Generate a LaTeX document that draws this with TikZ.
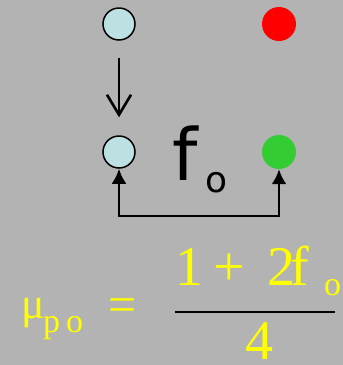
\documentclass[tikz,border=0pt]{standalone}
\usepackage{fontspec}
\setmainfont{Liberation Serif}
\newfontfamily\labelfont{DejaVu Sans}
\usetikzlibrary{arrows.meta}
\definecolor{bg}{HTML}{B3B3B3}
\definecolor{lblue}{HTML}{BDE0E3}
\definecolor{ggreen}{HTML}{33CC33}
\definecolor{yel}{HTML}{FFFF00}
\tikzset{
  site/.style={circle,draw=black,line width=1.5pt,fill=lblue,minimum size=32pt,inner sep=0pt},
  dot/.style={circle,minimum size=34pt,inner sep=0pt},
  eq/.style={text=yel,inner sep=0pt,anchor=base west},
  big/.style={eq,font=\fontsize{56}{56}\selectfont},
  small/.style={eq,font=\fontsize{34}{34}\selectfont},
  conn/.style={line width=2.6pt,black}
}
\begin{document}
\begin{tikzpicture}[x=1pt,y=-1pt]
\useasboundingbox (0,0) rectangle (343,365);
\fill[bg] (0,0) rectangle (343,365);
\node[site] (tl) at (119,24) {};
\node[dot,fill=red] (tr) at (279,24) {};
\node[site] (bl) at (119,152) {};
\node[dot,fill=ggreen] (br) at (279,152) {};
\node[inner sep=0pt,anchor=base west,font=\labelfont\fontsize{72}{72}\selectfont] (f) at (172,180) {f};
\node[inner sep=0pt,anchor=base west,font=\labelfont\fontsize{36}{36}\selectfont] (fo) at (205,192) {o};
\draw[conn,-{Straight Barb[length=20pt,width=24pt,line width=2.6pt]},shorten <=17pt,shorten >=18pt] (tl) -- (bl);
\coordinate (m) at (199,216);
\draw[conn,{Latex[length=15pt,width=15pt]}-{Latex[length=15pt,width=15pt]}] (bl.south) |- (m) -| (br.south);
% formula
\node[eq,font=\fontsize{44}{44}\selectfont] (mu) at (21,318) {μ};
\node[small] (p) at (43,332) {p};
\node[small] (o) at (66,332) {o};
\node[eq,font=\fontsize{50}{50}\selectfont] (equ) at (108,321) {=};
\node[big] (one) at (175,285) {1};
\node[big] (plus) at (213,285) {+};
\node[big] (two) at (267,285) {2};
\node[big] (ff) at (290,285) {f};
\node[small] (sub) at (324,295) {o};
\node[big] (den) at (245,359) {4};
\coordinate (l1) at (175,312);
\coordinate (l2) at (335,312);
\draw[line width=1.8pt,black] (l1) -- (l2);
\end{tikzpicture}
\end{document}
